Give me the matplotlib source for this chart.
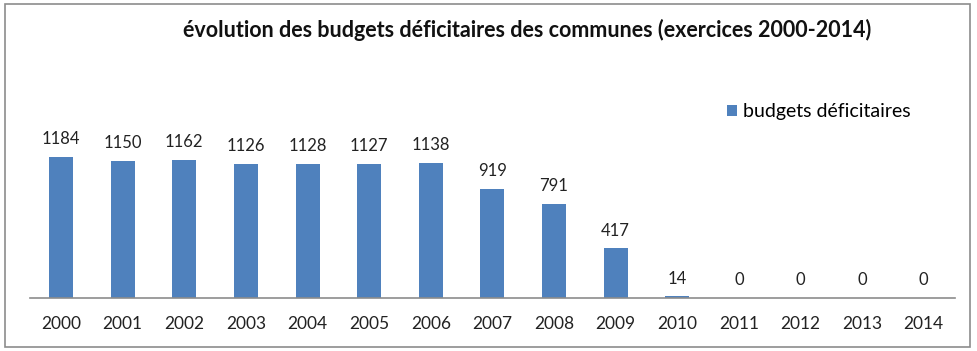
import matplotlib
matplotlib.use("Agg")
import matplotlib.pyplot as plt
from matplotlib.patches import Rectangle

# data
years = ['2000', '2001', '2002', '2003', '2004', '2005', '2006', '2007',
         '2008', '2009', '2010', '2011', '2012', '2013', '2014']
deficits = [1184, 1150, 1162, 1126, 1128, 1127, 1138, 919, 791, 417, 14, 0, 0, 0, 0]

plt.rcParams['font.family'] = ['Lato', 'DejaVu Sans']

fig = plt.figure(figsize=(9.77, 3.51), dpi=100)
ax = fig.add_axes([0.031, 0.151, 0.946, 0.678])

x = range(len(years))
bars = ax.bar(x, deficits, width=0.39, color='#4F81BD', label='budgets déficitaires')

for rect, val in zip(bars, deficits):
    ax.annotate(str(val), (rect.get_x() + rect.get_width() / 2, rect.get_height()),
                xytext=(0, 7), textcoords='offset points', ha='center', va='bottom',
                fontsize=12, color='#222222')

ax.set_xlim(-0.5, len(years) - 0.5)
ax.set_ylim(0, 2000)
ax.set_xticks(list(x))
ax.set_xticklabels(years, fontsize=12.5, color='#222222')
ax.tick_params(axis='x', length=0, pad=13)
ax.set_yticks([])
for side in ['top', 'right', 'left']:
    ax.spines[side].set_visible(False)
ax.spines['bottom'].set_color('#8c8c8c')
ax.spines['bottom'].set_linewidth(1.2)

fig.text(0.54, 0.915, 'évolution des budgets déficitaires des communes (exercices 2000-2014)',
         ha='center', va='center', fontsize=15.5, fontweight='bold', color='#111111')

leg = ax.legend(loc='upper left', bbox_to_anchor=(0.745, 0.85), frameon=False,
                fontsize=14, handlelength=0.55, handleheight=0.55, handletextpad=0.3,
                borderaxespad=0)

# outer chart border
fig.patches.append(Rectangle((0.005, 0.01), 0.988, 0.98, transform=fig.transFigure,
                             fill=False, edgecolor='#8c8c8c', linewidth=1.2))

plt.savefig('out.png', dpi=100)
plt.close()
